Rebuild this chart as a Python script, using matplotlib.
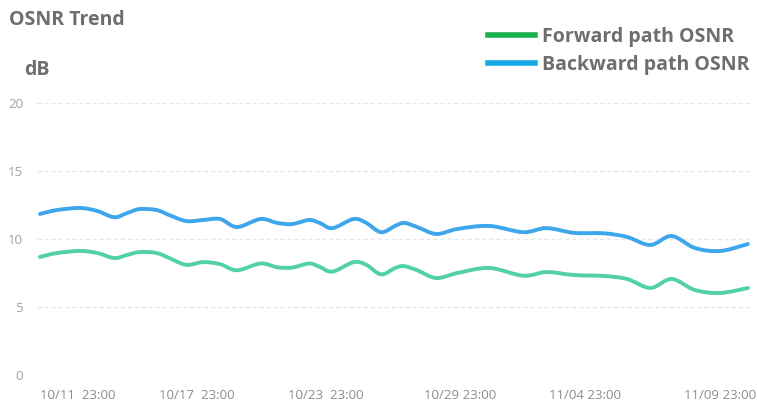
import numpy as np
import matplotlib
matplotlib.use("Agg")
import matplotlib.pyplot as plt
from matplotlib.path import Path
from matplotlib.patches import PathPatch
from matplotlib.lines import Line2D

# sample times, days since first sample
days = [0.0, 0.8, 1.9, 2.7, 3.5, 4.1, 4.7, 5.5, 6.1, 6.9, 7.7, 8.5, 9.3,
        10.4, 11.2, 11.9, 12.7, 13.2, 13.8, 14.8, 15.4, 16.1, 16.8, 17.2,
        17.8, 18.7, 19.7, 21.2, 22.8, 23.9, 25.2, 26.6, 27.7, 28.8, 29.8,
        30.9, 32.1, 33.4]

forward_osnr = [8.68, 8.97, 9.12, 8.97, 8.6, 8.82, 9.04, 8.97, 8.6, 8.1,
                8.3, 8.15, 7.7, 8.2, 7.92, 7.9, 8.2, 7.95, 7.6, 8.3, 8.1,
                7.4, 7.9, 8.0, 7.7, 7.13, 7.5, 7.87, 7.3, 7.57, 7.35, 7.28,
                7.06, 6.4, 7.06, 6.25, 6.03, 6.4]

backward_osnr = [11.84, 12.13, 12.28, 12.06, 11.6, 11.9, 12.2, 12.13, 11.76,
                 11.32, 11.4, 11.47, 10.88, 11.47, 11.18, 11.1, 11.4, 11.18,
                 10.8, 11.47, 11.18, 10.5, 11.0, 11.18, 10.88, 10.37, 10.74,
                 10.96, 10.5, 10.8, 10.45, 10.42, 10.15, 9.56, 10.22, 9.34,
                 9.12, 9.63]

tick_days = [1.8, 7.4, 13.5, 19.8, 25.7, 32.1]
tick_labels = ["10/11  23:00", "10/17  23:00", "10/23  23:00",
               "10/29 23:00", "11/04 23:00", "11/09 23:00"]
y_ticks = [0, 5, 10, 15, 20]


def smooth_path(x, y, k=1/6.0):
    # cubic bezier through every point (catmull-rom style), like a "smooth" line
    x = np.asarray(x, float)
    y = np.asarray(y, float)
    verts = [(x[0], y[0])]
    codes = [Path.MOVETO]
    n = len(x)
    for i in range(n - 1):
        p0 = max(i - 1, 0)
        p3 = min(i + 2, n - 1)
        c1 = (x[i] + (x[i + 1] - x[p0]) * k, y[i] + (y[i + 1] - y[p0]) * k)
        c2 = (x[i + 1] - (x[p3] - x[i]) * k, y[i + 1] - (y[p3] - y[i]) * k)
        verts += [c1, c2, (x[i + 1], y[i + 1])]
        codes += [Path.CURVE4] * 3
    return Path(verts, codes)


plt.rcParams['font.family'] = ['Open Sans', 'DejaVu Sans']

fig = plt.figure(figsize=(7.57, 4.07), dpi=100)
ax = fig.add_axes([37/757, 1 - 375/407, 713/757, 272/407])

ax.set_ylim(0, 20)
ax.set_xlim(-0.14, 33.5)
ax.set_yticks(y_ticks)
ax.set_xticks(tick_days)
ax.set_xticklabels(tick_labels)
ax.tick_params(length=0, colors="#8c8c8c", labelsize=9.5)
ax.tick_params(axis="y", pad=10, colors="#a0a0a0")
ax.tick_params(axis="x", pad=10)
for s in ax.spines.values():
    s.set_visible(False)
ax.grid(axis="y", color="#e6e6e6", linestyle=(0, (3, 2)), linewidth=1)
ax.set_axisbelow(True)

for vals, col in [(backward_osnr, "#3ea6ea"), (forward_osnr, "#52d2a2")]:
    ax.add_patch(PathPatch(smooth_path(days, vals), facecolor="none",
                           edgecolor=col, linewidth=2.8, capstyle="round",
                           joinstyle="round", clip_on=False))

fig.text(9/757, 1 - 20/407, "OSNR Trend", fontsize=14, fontweight="bold",
         color="#6e6e6e", va="center", ha="left")
fig.text(24/757, 1 - 70/407, "dB", fontsize=14, fontweight="bold",
         color="#6e6e6e", va="center", ha="left")

handles = [Line2D([], [], color="#18b04c", linewidth=4),
           Line2D([], [], color="#16a8e6", linewidth=4)]
leg = fig.legend(handles, ["Forward path OSNR", "Backward path OSNR"],
                 loc="upper right", bbox_to_anchor=(750/757, 1 - 27/407),
                 frameon=False, handlelength=2.4, handletextpad=0.4,
                 labelspacing=0.42, borderaxespad=0, borderpad=0,
                 prop={"weight": "bold", "size": 14})
for t in leg.get_texts():
    t.set_color("#6e6e6e")

fig.savefig("out.png", dpi=100)
